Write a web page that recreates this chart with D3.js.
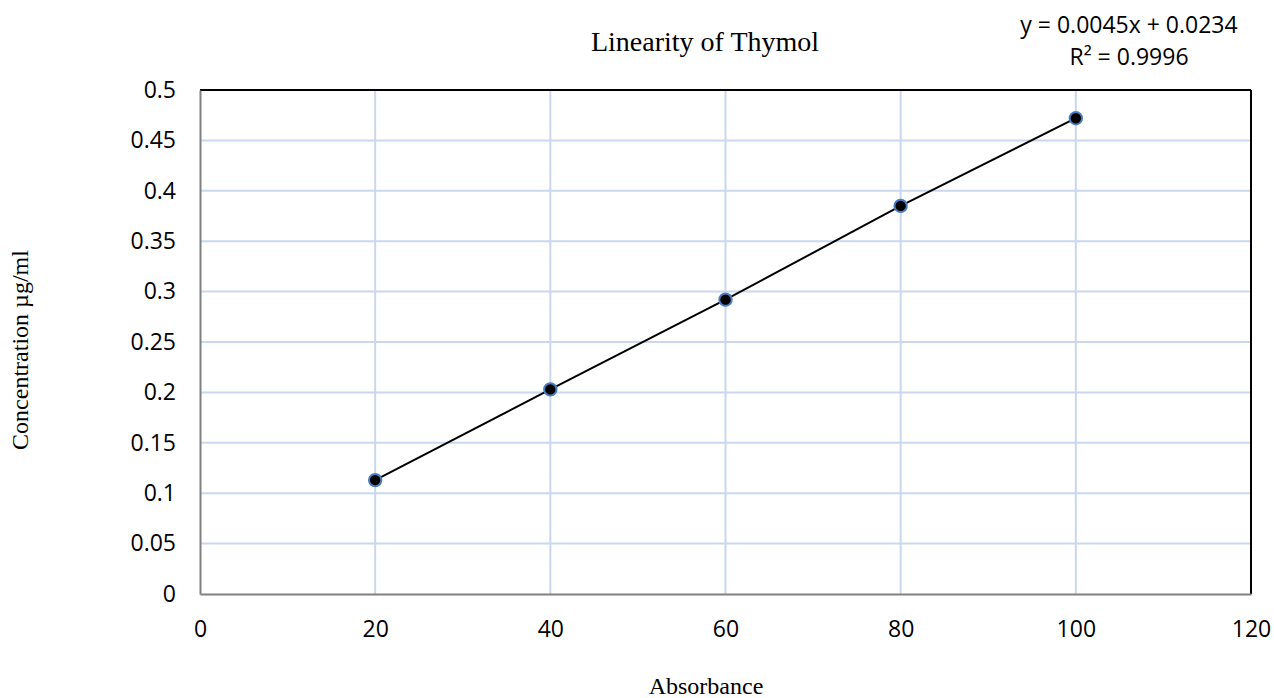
<!DOCTYPE html>
<html>
<head>
<meta charset="utf-8">
<script src="https://cdn.jsdelivr.net/npm/d3@7"></script>
<style>
  body { margin: 0; background: #fff; }
  svg { display: block; }
</style>
</head>
<body>
<div id="chart"></div>
<script>
// Datos
const absorbance = [20, 40, 60, 80, 100];
const concentration = [0.113, 0.203, 0.292, 0.385, 0.472];
const xTicks = [0, 20, 40, 60, 80, 100, 120];
const yTicks = [0, 0.05, 0.1, 0.15, 0.2, 0.25, 0.3, 0.35, 0.4, 0.45, 0.5];
const trendText = ["y = 0.0045x + 0.0234", "R² = 0.9996"];

const svgWidth = 1274;
const svgHeight = 698;
const margin = { top: 90, right: 23, bottom: 104, left: 200 };
const width = svgWidth - margin.left - margin.right;
const height = svgHeight - margin.top - margin.bottom;

const root = d3.select("#chart")
    .append("svg")
    .attr("width", svgWidth)
    .attr("height", svgHeight);

const svg = root.append("g")
    .attr("transform", `translate(${margin.left}, ${margin.top})`);

const x = d3.scaleLinear().domain([0, 120]).range([0, width]);
const y = d3.scaleLinear().domain([0, 0.5]).range([height, 0]);

// Rejilla
svg.append("g")
    .selectAll("line")
    .data(yTicks.filter(d => d > 0 && d < 0.5))
    .enter().append("line")
    .attr("x1", 0).attr("x2", width)
    .attr("y1", d => y(d)).attr("y2", d => y(d))
    .attr("stroke", "#c9d7ef").attr("stroke-width", 2);

svg.append("g")
    .selectAll("line")
    .data(xTicks.filter(d => d > 0 && d < 120))
    .enter().append("line")
    .attr("y1", 0).attr("y2", height)
    .attr("x1", d => x(d)).attr("x2", d => x(d))
    .attr("stroke", "#c9d7ef").attr("stroke-width", 2);

// Marco
svg.append("line").attr("x1", 0).attr("x2", width).attr("y1", 0).attr("y2", 0)
    .attr("stroke", "#000").attr("stroke-width", 2);
svg.append("line").attr("x1", width).attr("x2", width).attr("y1", 0).attr("y2", height)
    .attr("stroke", "#000").attr("stroke-width", 2);

// Ejes
const xAxis = svg.append("g")
    .attr("transform", `translate(0, ${height})`)
    .call(d3.axisBottom(x).tickValues(xTicks).tickSize(0).tickPadding(27).tickFormat(d3.format("d")));
const yAxis = svg.append("g")
    .call(d3.axisLeft(y).tickValues(yTicks).tickSize(0).tickPadding(24).tickFormat(d => String(d)));

[xAxis, yAxis].forEach(a => {
    a.select(".domain").attr("stroke", "#808080").attr("stroke-width", 2);
    a.selectAll("text")
        .attr("font-family", "'Open Sans', 'Noto Sans', sans-serif")
        .attr("font-size", 23)
        .attr("fill", "#000");
});
xAxis.selectAll("text").attr("dy", "0.71em");

// Linea y puntos
const pts = absorbance.map((a, i) => ({ a, c: concentration[i] }));

svg.append("path")
    .datum(pts)
    .attr("fill", "none")
    .attr("stroke", "#000")
    .attr("stroke-width", 2)
    .attr("d", d3.line().x(d => x(d.a)).y(d => y(d.c)));

svg.selectAll(".pt")
    .data(pts)
    .enter().append("circle")
    .attr("class", "pt")
    .attr("cx", d => x(d.a))
    .attr("cy", d => y(d.c))
    .attr("r", 6.2)
    .attr("fill", "#000")
    .attr("stroke", "#4a7cc4")
    .attr("stroke-width", 2);

// Titulos
root.append("text")
    .attr("x", 705).attr("y", 51)
    .attr("text-anchor", "middle")
    .attr("font-family", "'Liberation Serif', 'Times New Roman', serif")
    .attr("font-size", 28)
    .text("Linearity of Thymol");

root.append("text")
    .attr("x", 706).attr("y", 694)
    .attr("text-anchor", "middle")
    .attr("font-family", "'Liberation Serif', 'Times New Roman', serif")
    .attr("font-size", 24)
    .text("Absorbance");

root.append("text")
    .attr("transform", "translate(28, 350) rotate(-90)")
    .attr("text-anchor", "middle")
    .attr("font-family", "'Liberation Serif', 'Times New Roman', serif")
    .attr("font-size", 24)
    .text("Concentration µg/ml");

root.append("g")
    .selectAll("text")
    .data(trendText)
    .enter().append("text")
    .attr("x", 1129)
    .attr("y", (d, i) => 33 + i * 32)
    .attr("text-anchor", "middle")
    .attr("font-family", "'Open Sans', 'Noto Sans', sans-serif")
    .attr("font-size", 23)
    .text(d => d);
</script>
</body>
</html>
